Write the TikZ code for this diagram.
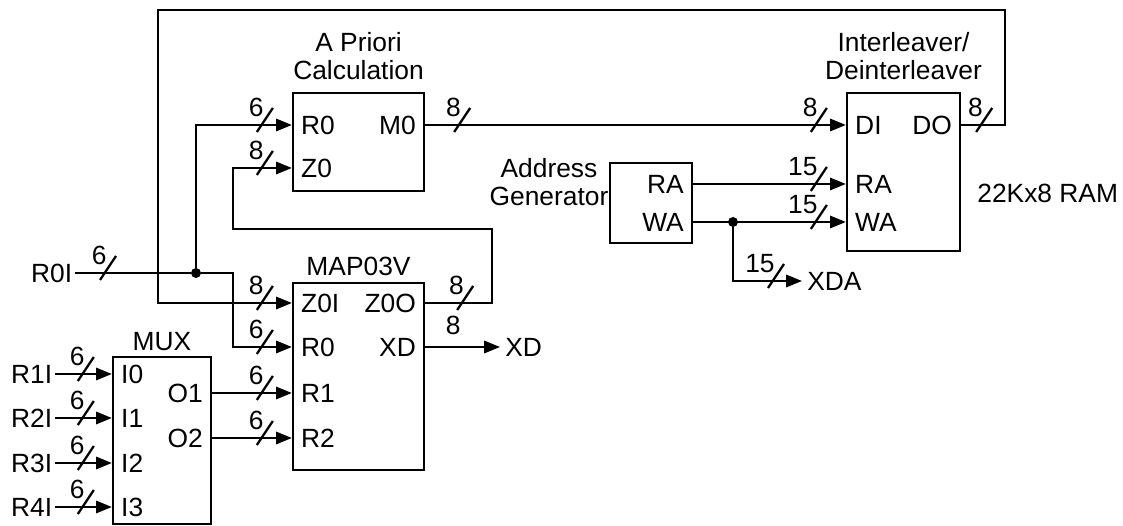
\documentclass[tikz,border=0pt]{standalone}
\usepackage{fontspec}
\setmainfont{Liberation Sans}
\usepackage{tikz}
\usetikzlibrary{arrows.meta,positioning}
\tikzset{
    every node/.style={font=\fontsize{15}{16}\selectfont},
    wire/.style={line width=1.3pt},
    sigarrow/.style={wire, -{Triangle[length=9pt,width=7pt]}},
    blockbox/.style={draw, line width=1.3pt, inner sep=0pt},
    inport/.style={anchor=west, inner xsep=0.18cm, inner ysep=0pt},
    outport/.style={anchor=east, inner xsep=0.18cm, inner ysep=0pt},
    blocktitle/.style={align=center, inner sep=0pt},
    buswidth/.style={anchor=south east, inner sep=0pt},
    junction/.style={circle, fill, inner sep=0pt, minimum size=0.2cm},
    pics/busslash/.style={code={
        \draw[wire] (-0.08,-0.14) -- (0.24,0.34);
        \node[buswidth] at (0.06,0.16) {#1};
    }},
}

\begin{document}
\begin{tikzpicture}
    \useasboundingbox (0,0) rectangle (22.46,10.52);

    % Blocks
    \node[blockbox, minimum width=2.62cm, minimum height=1.96cm] (apriori) at (7.17,7.68) {};
    \node[blockbox, minimum width=2.26cm, minimum height=3.16cm] (ram) at (18.07,7.08) {};
    \node[blockbox, minimum width=1.64cm, minimum height=1.60cm] (addrgen) at (13.02,6.46) {};
    \node[blockbox, minimum width=2.62cm, minimum height=3.74cm] (map) at (7.17,2.99) {};
    \node[blockbox, minimum width=1.96cm, minimum height=3.34cm] (mux) at (3.24,1.71) {};

    % Titles
    \node[blocktitle, above=0.23cm of apriori] (aptitle) {A Priori\\Calculation};
    \node[blocktitle, above=0.23cm of ram] (ramtitle) {Interleaver/\\Deinterleaver};
    \node[blocktitle, above=0.12cm of map] (maptitle) {MAP03V};
    \node[blocktitle, above=0.10cm of mux] (muxtitle) {MUX};
    \node[blocktitle] (agtitle) at (10.98,6.87) {Address\\Generator};
    \node[blocktitle, anchor=west] (ramsize) at (19.54,6.66) {22Kx8 RAM};

    % Ports -- A Priori
    \node[inport] (apR0) at (apriori.west |- 0,8.02) {R0};
    \node[inport] (apZ0) at (apriori.west |- 0,7.16) {Z0};
    \node[outport] (apM0) at (apriori.east |- 0,8.02) {M0};

    % Ports -- RAM
    \node[inport] (ramDI) at (ram.west |- 0,8.02) {DI};
    \node[inport] (ramRA) at (ram.west |- 0,6.84) {RA};
    \node[inport] (ramWA) at (ram.west |- 0,6.08) {WA};
    \node[outport] (ramDO) at (ram.east |- 0,8.02) {DO};

    % Ports -- address generator
    \node[outport] (agRA) at (addrgen.east |- 0,6.84) {RA};
    \node[outport] (agWA) at (addrgen.east |- 0,6.08) {WA};

    % Ports -- MAP03V
    \node[inport] (mapZ0I) at (map.west |- 0,4.46) {Z0I};
    \node[inport] (mapR0) at (map.west |- 0,3.58) {R0};
    \node[inport] (mapR1) at (map.west |- 0,2.66) {R1};
    \node[inport] (mapR2) at (map.west |- 0,1.76) {R2};
    \node[outport] (mapZ0O) at (map.east |- 0,4.46) {Z0O};
    \node[outport] (mapXD) at (map.east |- 0,3.58) {XD};

    % Ports -- MUX
    \node[inport] (muxI0) at (mux.west |- 0,3.04) {I0};
    \node[inport] (muxI1) at (mux.west |- 0,2.16) {I1};
    \node[inport] (muxI2) at (mux.west |- 0,1.26) {I2};
    \node[inport] (muxI3) at (mux.west |- 0,0.38) {I3};
    \node[outport] (muxO1) at (mux.east |- 0,2.66) {O1};
    \node[outport] (muxO2) at (mux.east |- 0,1.76) {O2};

    % External signals
    \node[anchor=east, inner sep=0.05cm] (r0i) at (1.50,5.06) {R0I};
    \node[anchor=east, inner sep=0.05cm] (r1i) at (1.10,3.04) {R1I};
    \node[anchor=east, inner sep=0.05cm] (r2i) at (1.10,2.16) {R2I};
    \node[anchor=east, inner sep=0.05cm] (r3i) at (1.10,1.26) {R3I};
    \node[anchor=east, inner sep=0.05cm] (r4i) at (1.10,0.38) {R4I};
    \node[anchor=west, inner sep=0.1cm] (xd) at (10.0,3.58) {XD};
    \node[anchor=west, inner sep=0.1cm] (xda) at (16.04,4.90) {XDA};

    % Junctions
    \node[junction] (jr0) at (3.92,5.06) {};
    \node[junction] (jwa) at (14.66,6.08) {};

    % Feedback from RAM back to MAP03V
    \draw[sigarrow] (ramDO.east) -| (20.10,10.32) -- (3.16,10.32) |- (mapZ0I.west);

    % R0I fan out
    \draw[wire] (r0i.east) -- (jr0);
    \draw[sigarrow] (jr0) -- (4.66,5.06) |- (mapR0.west);
    \draw[sigarrow] (jr0) |- (apR0.west);

    % Z0 loop
    \draw[sigarrow] (mapZ0O.east) -| (9.84,5.94) -| (4.66,7.16) -- (apZ0.west);

    % Data and address buses
    \draw[sigarrow] (apM0.east) -- (ramDI.west);
    \draw[sigarrow] (agRA.east) -- (ramRA.west);
    \draw[sigarrow] (agWA.east) -- (ramWA.west);
    \draw[sigarrow] (jwa) |- (xda.west);
    \draw[sigarrow] (mapXD.east) -- (xd.west);

    % MUX
    \draw[sigarrow] (r1i.east) -- (muxI0.west);
    \draw[sigarrow] (r2i.east) -- (muxI1.west);
    \draw[sigarrow] (r3i.east) -- (muxI2.west);
    \draw[sigarrow] (r4i.east) -- (muxI3.west);
    \draw[sigarrow] (muxO1.east) -- (mapR1.west);
    \draw[sigarrow] (muxO2.east) -- (mapR2.west);

    % Bus widths
    \pic at ([xshift=0.58cm]r0i.east) {busslash=6};
    \pic at ([xshift=-0.62cm]apR0.west) {busslash=6};
    \pic at ([xshift=-0.62cm]apZ0.west) {busslash=8};
    \pic at ([xshift=0.66cm]apM0.east) {busslash=8};
    \pic at ([xshift=-0.62cm]ramDI.west) {busslash=8};
    \pic at ([xshift=0.38cm]ramDO.east) {busslash=8};
    \pic at ([xshift=-0.62cm]ramRA.west) {busslash=15};
    \pic at ([xshift=-0.62cm]ramWA.west) {busslash=15};
    \pic at ([xshift=-0.60cm]xda.west) {busslash=15};
    \pic at ([xshift=-0.62cm]mapZ0I.west) {busslash=8};
    \pic at ([xshift=-0.62cm]mapR0.west) {busslash=6};
    \pic at ([xshift=-0.62cm]mapR1.west) {busslash=6};
    \pic at ([xshift=-0.62cm]mapR2.west) {busslash=6};
    \pic at ([xshift=0.72cm]mapZ0O.east) {busslash=8};
    \node[buswidth, anchor=north east] (xdwidth) at ([xshift=0.02cm, yshift=-0.26cm]mapZ0O.east -| 9.20,0) {8};
    \pic at ([xshift=-0.60cm]muxI0.west) {busslash=6};
    \pic at ([xshift=-0.60cm]muxI1.west) {busslash=6};
    \pic at ([xshift=-0.60cm]muxI2.west) {busslash=6};
    \pic at ([xshift=-0.60cm]muxI3.west) {busslash=6};
\end{tikzpicture}
\end{document}
